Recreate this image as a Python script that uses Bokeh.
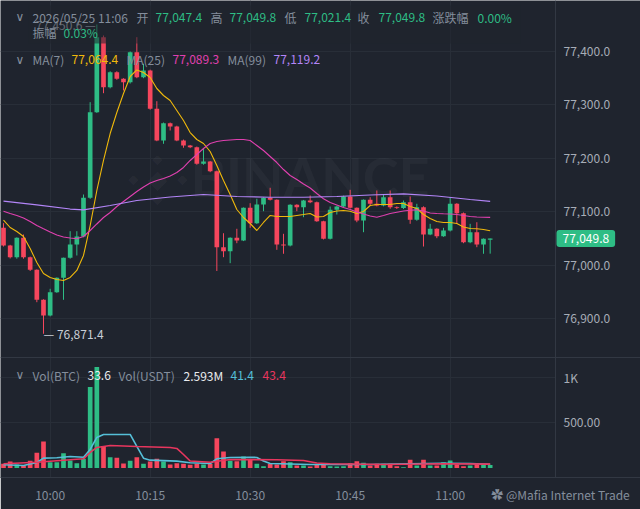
import numpy as np
import pandas as pd
from bokeh.plotting import figure
from bokeh.models import (Range1d, FixedTicker, DatetimeTickFormatter,
                          Grid, Label, Span, BoxAnnotation, ColumnDataSource)
from bokeh.embed import file_html
from bokeh.resources import INLINE

# ---------------- data ----------------
start_time = "2026-05-25 09:53"
header_date = "2026/05/25 11:06"
change_pct = "0.00%"
amplitude_pct = "0.03%"
vol_usdt = "2.593M"
credit = "✿ @Mafia Internet Trade"

opens = [77069.8, 77036.7, 77014.8, 77051.1, 77014.8, 76991.2, 76935.0, 76905.6, 76949.2, 76976.2,
         77013.7, 77038.6, 77053.6, 77126.0, 77286.3, 77426.8, 77333.1, 77361.2, 77348.9, 77342.5,
         77398.7, 77351.9, 77364.4, 77292.7, 77233.3, 77265.7, 77259.5, 77233.3, 77224.0, 77220.8,
         77189.7, 77194.0, 77175.8, 77033.5, 77026.0, 77051.1, 77046.1, 77107.3, 77078.5, 77113.5,
         77126.0, 77122.3, 77038.6, 77036.7, 77112.9, 77108.4, 77121.0, 77117.8, 77082.2, 77049.2,
         77103.5, 77109.7, 77128.5, 77107.3, 77083.5, 77122.3, 77114.8, 77111.6, 77127.1, 77108.4,
         77106.9, 77117.8, 77084.8, 77108.4, 77057.3, 77068.0, 77054.1, 77064.8, 77114.8, 77097.2,
         77042.9, 77061.6, 77038.6, 77047.4]
highs = [77078.5, 77038.0, 77052.0, 77057.3, 77016.0, 76992.0, 76936.0, 76955.6, 76977.0, 77014.0,
         77063.5, 77063.5, 77132.2, 77305.1, 77450.6, 77430.0, 77363.0, 77363.0, 77350.0, 77400.0,
         77426.8, 77377.0, 77366.0, 77306.9, 77267.0, 77267.0, 77261.0, 77235.0, 77225.0, 77222.0,
         77217.8, 77195.0, 77177.0, 77059.7, 77052.0, 77068.0, 77108.0, 77115.9, 77124.2, 77127.0,
         77144.8, 77123.0, 77058.6, 77114.0, 77114.0, 77122.0, 77130.3, 77119.0, 77083.0, 77109.7,
         77111.0, 77130.0, 77141.0, 77108.0, 77123.0, 77127.1, 77139.7, 77132.2, 77139.7, 77110.0,
         77121.0, 77128.5, 77114.8, 77110.0, 77077.3, 77069.0, 77069.8, 77127.1, 77116.0, 77098.5,
         77077.3, 77080.3, 77050.0, 77049.8]
lows = [77034.8, 77012.4, 77012.0, 77012.0, 76989.0, 76930.5, 76871.4, 76904.0, 76948.0, 76935.0,
        77012.0, 77018.0, 77052.0, 77124.0, 77285.0, 77321.9, 77331.0, 77347.0, 77327.0, 77340.0,
        77350.0, 77350.0, 77291.0, 77232.0, 77227.1, 77252.1, 77232.0, 77219.7, 77219.0, 77188.0,
        77188.0, 77174.0, 76989.0, 77014.8, 77003.6, 77041.0, 77045.0, 77069.8, 77077.0, 77100.9,
        77121.0, 77028.6, 77021.2, 77035.0, 77100.9, 77089.7, 77116.0, 77081.0, 77048.0, 77048.0,
        77094.7, 77108.0, 77106.0, 77080.3, 77061.6, 77112.0, 77110.0, 77110.0, 77105.4, 77105.0,
        77105.0, 77077.3, 77083.0, 77034.8, 77056.0, 77050.4, 77053.0, 77063.0, 77077.3, 77041.0,
        77041.0, 77033.5, 77021.2, 77021.4]
closes = [77036.7, 77014.8, 77051.1, 77014.8, 76991.2, 76935.0, 76905.6, 76949.2, 76976.2, 77013.7,
          77038.6, 77053.6, 77126.0, 77286.3, 77426.8, 77333.1, 77361.2, 77348.9, 77342.5, 77398.7,
          77351.9, 77364.4, 77292.7, 77233.3, 77265.7, 77259.5, 77233.3, 77224.0, 77220.8, 77189.7,
          77194.0, 77175.8, 77033.5, 77026.0, 77051.1, 77046.1, 77107.3, 77078.5, 77113.5, 77126.0,
          77122.3, 77038.6, 77036.7, 77112.9, 77108.4, 77121.0, 77117.8, 77082.2, 77049.2, 77103.5,
          77109.7, 77128.5, 77107.3, 77083.5, 77122.3, 77114.8, 77111.6, 77127.1, 77108.4, 77106.9,
          77117.8, 77084.8, 77108.4, 77057.3, 77068.0, 77054.1, 77064.8, 77114.8, 77097.2, 77042.9,
          77061.6, 77038.6, 77049.2, 77049.8]
volumes = [47, 72, 39, 28, 80, 169, 294, 64, 64, 164,
           83, 53, 102, 897, 1120, 242, 120, 113, 50, 80,
           120, 47, 72, 102, 72, 39, 53, 47, 36, 47,
           39, 47, 331, 183, 80, 76, 128, 90, 47, 20,
           47, 39, 76, 64, 28, 28, 17, 39, 39, 20,
           17, 20, 53, 76, 58, 28, 47, 47, 47, 20,
           9, 91, 28, 91, 28, 28, 64, 83, 39, 20,
           28, 53, 39, 33.6]

ma7 = [77084.4, 77070.4, 77062.9, 77053.6, 77031.1, 77004.9, 76984.3, 76976.8, 76973.0, 76971.2,
       76976.8, 76989.9, 77018.0, 77074.1, 77139.7, 77195.9, 77246.4, 77285.8, 77321.3, 77353.2,
       77365.4, 77360.7, 77351.3, 77330.7, 77317.6, 77308.2, 77289.5, 77270.8, 77248.3, 77235.2,
       77227.7, 77212.7, 77186.5, 77158.4, 77132.2, 77104.1, 77089.1, 77077.9, 77064.8, 77079.8,
       77092.9, 77091.0, 77091.0, 77091.0, 77092.9, 77094.7, 77096.6, 77090.1, 77091.0, 77098.5,
       77101.3, 77102.2, 77100.9, 77096.6, 77100.4, 77111.6, 77113.5, 77113.5, 77113.5, 77115.3,
       77115.3, 77109.7, 77106.0, 77094.7, 77087.3, 77081.6, 77079.8, 77079.8, 77077.9, 77071.3,
       77068.5, 77068.0, 77066.7, 77064.4]
ma25 = [77100.9, 77096.6, 77092.9, 77088.2, 77081.6, 77074.1, 77068.0, 77062.0, 77056.4, 77052.6,
        77050.7, 77049.2, 77053.6, 77064.8, 77077.0, 77089.1, 77098.5, 77109.7, 77119.1, 77128.5,
        77137.8, 77146.3, 77153.7, 77158.4, 77162.2, 77166.8, 77173.4, 77182.8, 77195.9, 77207.1,
        77218.3, 77227.7, 77231.5, 77233.3, 77234.3, 77235.2, 77235.2, 77233.3, 77224.0, 77214.6,
        77203.4, 77192.1, 77179.0, 77167.8, 77160.3, 77151.9, 77144.4, 77134.1, 77124.2, 77117.2,
        77112.5, 77107.9, 77104.1, 77099.4, 77095.7, 77091.9, 77089.7, 77092.9, 77096.6, 77099.1,
        77101.3, 77102.8, 77103.5, 77101.3, 77097.6, 77096.6, 77096.1, 77095.7, 77094.7, 77092.9,
        77091.0, 77090.1, 77089.7, 77089.3]
ma99_idx = [0, 5, 10, 12, 16, 20, 25, 30, 35, 40, 45, 50, 55, 60, 65, 70, 73]
ma99 = [77119.7, 77112.9, 77105.0, 77103.5, 77111.6, 77121.0, 77127.5, 77132.2, 77128.5,
        77127.1, 77127.1, 77128.5, 77131.3, 77133.5, 77129.4, 77122.8, 77119.2]

vma5_idx = [0, 3, 5, 6, 8, 10, 12, 13, 14, 15, 19, 20, 21, 22, 26, 28, 31, 32, 34, 37,
            38, 39, 40, 46, 55, 61, 66, 70, 73]
vma5 = [36, 28, 61, 109, 113, 128, 120, 206, 339, 372, 372, 239, 109, 87, 76, 58, 50, 102, 117, 120,
        117, 78, 50, 39, 39, 47, 53, 50, 41.4]
vma10_idx = [0, 5, 10, 12, 13, 14, 16, 20, 25, 26, 27, 28, 31, 34, 41, 45, 47, 49, 57, 66, 73]
vma10 = [47, 64, 91, 102, 172, 228, 250, 239, 228, 217, 150, 78, 64, 94, 91, 83, 56, 47, 39, 47, 43.4]

price_ticks = [76900, 77000, 77100, 77200, 77300, 77400]
vol_ticks = [500, 1000]
vol_tick_labels = ["500.00", "1K"]
time_tick_labels = ["10:00", "10:15", "10:30", "10:45", "11:00"]

# ---------------- style ----------------
BG = "#1f242e"
GRID = "#282e38"
SEP = "#323843"
GREEN = "#2ebd85"
RED = "#f6465d"
GRAY = "#848e9c"
AXIS_TXT = "#a7adb7"
WHITE = "#eaecef"
C_MA7 = "#f0b90b"
C_MA25 = "#e040b0"
C_MA99 = "#b385f8"
C_V5 = "#55bfd8"
C_V10 = "#e8365e"
FONT = "Noto Sans CJK SC"

# layout (pixels)
FRAME_H = 477          # frame spans y 0..477, time axis below
AXIS_X = 555           # price-axis separator inside the frame

times = pd.date_range(start_time, periods=len(closes), freq="min")
o = np.array(opens)
c = np.array(closes)
colors = np.where(c >= o, GREEN, RED)

src = ColumnDataSource(dict(t=times, o=o, h=highs, l=lows, c=c,
                            top=np.maximum(o, c), bot=np.minimum(o, c),
                            col=colors, v=volumes))

x0 = times[0] - pd.Timedelta(seconds=27)
x1 = times[-1] + pd.Timedelta(seconds=1353)
x_axis_edge = times[-1] + pd.Timedelta(seconds=588)
ms = lambda ts: ts.value / 1e6

p = figure(width=640, height=509, output_backend="svg", toolbar_location=None,
           x_axis_type="datetime", y_axis_location=None,
           x_range=Range1d(x0, x1), y_range=Range1d(76602.25, 77495.5),
           min_border_left=0, min_border_right=0, min_border_top=0, min_border_bottom=32,
           background_fill_color=BG, border_fill_color=BG, outline_line_color=None)
p.extra_y_ranges = {"vol": Range1d(-105.3, 5182.9)}
p.ygrid.visible = False   # replaced by the bounded grids below

# time axis (real axis); the corner credit sits in the same strip as a tick label
tick_ms = [int(ms(pd.Timestamp(start_time[:10] + " " + t))) for t in time_tick_labels]
credit_ms = int(ms(times[-1] + pd.Timedelta(seconds=633)))
xa = p.xaxis[0]
xa.ticker = FixedTicker(ticks=tick_ms + [credit_ms])
xa.formatter = DatetimeTickFormatter(minutes="%H:%M", hourmin="%H:%M", hours="%H:%M")
xa.major_label_overrides = {credit_ms: credit}
xa.axis_line_color = SEP
xa.major_tick_line_color = None
xa.minor_tick_line_color = None
xa.major_tick_out = 0
xa.major_tick_in = 0
xa.major_label_text_color = GRAY
xa.major_label_text_font = FONT
xa.major_label_text_font_size = "12px"
xa.major_label_standoff = 8
p.xgrid.ticker = FixedTicker(ticks=tick_ms)
p.xgrid.grid_line_color = GRID

# horizontal grids stop at the price-axis separator
p.add_layout(Grid(dimension=1, ticker=FixedTicker(ticks=price_ticks), grid_line_color=GRID,
                  cross_bounds=(ms(x0), ms(x_axis_edge))))
p.add_layout(Grid(dimension=1, ticker=FixedTicker(ticks=vol_ticks), y_range_name="vol",
                  grid_line_color=GRID, cross_bounds=(ms(x0), ms(x_axis_edge))))

# panel separators
p.add_layout(Span(location=FRAME_H - 357, location_units="screen", dimension="width",
                  line_color=SEP, line_width=1))
p.add_layout(Span(location=AXIS_X, location_units="screen", dimension="height",
                  line_color=SEP, line_width=1))

# watermark
p.add_layout(Label(x=190, y=FRAME_H - 176, x_units="screen", y_units="screen", text="BINANCE",
                   text_font="Lato", text_font_style="bold", text_font_size="54px",
                   text_color="#ffffff", text_alpha=0.035, text_baseline="middle", level="underlay"))
for lx, ly, ls in [(157, 178, "26px"), (133, 178, "14px"), (182, 178, "14px"),
                   (157, 158, "14px"), (157, 198, "14px")]:
    p.add_layout(Label(x=lx, y=FRAME_H - ly, x_units="screen", y_units="screen", text="◆",
                       text_font="DejaVu Sans", text_font_size=ls, text_align="center",
                       text_color="#ffffff", text_alpha=0.035, text_baseline="middle", level="underlay"))

# candles
p.segment(x0="t", y0="h", x1="t", y1="l", source=src, color="col", line_width=1)
p.vbar(x="t", width=42000, top="top", bottom="bot", source=src, fill_color="col", line_color=None)
# volume
p.vbar(x="t", width=42000, top="v", bottom=0, source=src, fill_color="col", line_color=None,
       y_range_name="vol")

# moving averages
p.line(times, ma7, line_color=C_MA7, line_width=1.1)
p.line(times, ma25, line_color=C_MA25, line_width=1.1)
p.line(times[ma99_idx], ma99, line_color=C_MA99, line_width=1.2)
p.line(times[vma5_idx], vma5, line_color=C_V5, line_width=1.6, y_range_name="vol")
p.line(times[vma10_idx], vma10, line_color=C_V10, line_width=1.6, y_range_name="vol")

# high / low markers
ih = int(np.argmax(highs))
il = int(np.argmin(lows))
p.add_layout(Label(x=times[ih], y=highs[ih], text=f"{highs[ih]:,.1f} —", text_align="right",
                   text_baseline="middle", x_offset=-1, text_font=FONT, text_font_size="12px",
                   text_color="#b7bdc6"))
p.add_layout(Label(x=times[il], y=lows[il], text=f"— {lows[il]:,.1f}", text_align="left",
                   text_baseline="middle", text_font=FONT, text_font_size="12px",
                   text_color="#c9ced6"))

# translucent legend backdrop over the top rows (dims what lies beneath the header)
p.add_layout(BoxAnnotation(left=28, right=520, top=FRAME_H - 5, bottom=FRAME_H - 43,
                           left_units="screen", right_units="screen", top_units="screen",
                           bottom_units="screen", fill_color=BG, fill_alpha=0.55, line_color=None))


def txt(x, yref, s, color, size="12px", font=FONT):
    p.add_layout(Label(x=x, y=FRAME_H - yref, x_units="screen", y_units="screen", text=s,
                       text_color=color, text_font=font, text_font_size=size,
                       text_align="left", text_baseline="middle"))


fmt = lambda v: f"{v:,.1f}"
R1, R2, R3, RV = 16.5, 32.3, 59.0, 374.5
txt(15, R1, "∨", GRAY, font="DejaVu Sans")
txt(32, R1, header_date, GRAY)
txt(136, R1, "开", GRAY)
txt(155, R1, fmt(opens[-1]), GREEN)
txt(210, R1, "高", GRAY)
txt(229, R1, fmt(highs[-1]), GREEN)
txt(284, R1, "低", GRAY)
txt(304, R1, fmt(lows[-1]), GREEN)
txt(357, R1, "收", GRAY)
txt(378, R1, fmt(closes[-1]), GREEN)
txt(432, R1, "涨跌幅", GRAY)
txt(477, R1, change_pct, GREEN)
txt(32, R2, "振幅", GRAY)
txt(63, R2, amplitude_pct, GREEN)

txt(15, R3, "∨", GRAY, font="DejaVu Sans")
txt(32, R3, "MA(7)", GRAY)
txt(71, R3, fmt(ma7[-1]), C_MA7)
txt(126, R3, "MA(25)", GRAY)
txt(172, R3, fmt(ma25[-1]), C_MA25)
txt(227, R3, "MA(99)", GRAY)
txt(273, R3, fmt(ma99[-1]), C_MA99)

txt(15, RV, "∨", GRAY, font="DejaVu Sans")
txt(32, RV, "Vol(BTC)", GRAY)
txt(87, RV, f"{volumes[-1]:.1f}", WHITE)
txt(118, RV, "Vol(USDT)", GRAY)
txt(183, RV, vol_usdt, WHITE)
txt(230, RV, f"{vma5[-1]:.1f}", C_V5)
txt(262, RV, f"{vma10[-1]:.1f}", C_V10)

# price-axis tick labels (placed through the price scale)
for pt in price_ticks:
    p.add_layout(Label(x=AXIS_X + 8, x_units="screen", y=pt, text=f"{pt:,.1f}",
                       text_color=AXIS_TXT, text_font=FONT, text_font_size="12px",
                       text_align="left", text_baseline="middle"))
# volume-axis tick labels (placed through the volume scale)
for vt, vl in zip(vol_ticks, vol_tick_labels):
    p.add_layout(Label(x=AXIS_X + 8, x_units="screen", y=vt, y_range_name="vol", text=vl,
                       text_color=AXIS_TXT, text_font=FONT, text_font_size="12px",
                       text_align="left", text_baseline="middle"))

# last price badge
p.add_layout(Label(x=AXIS_X + 1, x_units="screen", y=closes[-1], text=fmt(closes[-1]),
                   text_color="#ffffff", text_font=FONT, text_font_size="12px",
                   text_align="left", text_baseline="middle",
                   background_fill_color=GREEN, border_radius=3, padding=(6, 4)))

open("out.html", "w").write(file_html(p, INLINE))
